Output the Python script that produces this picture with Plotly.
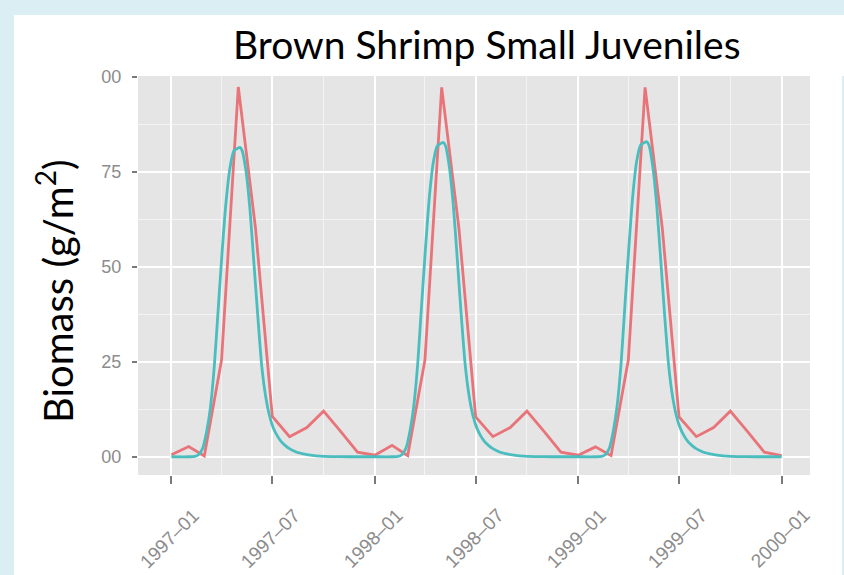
import plotly.graph_objects as go

# ---------------- data ----------------
years = [1997, 1998, 1999]
red_dates = [f"{y}-{m:02d}-01" for y in years for m in range(1, 13)] + ["2000-01-01"]
red_values = [
    0.5, 2.7, 0.2, 25.5, 97.3, 60.0, 10.6, 5.3, 7.7, 12.0, 6.6, 1.2,
    0.4, 3.0, 0.3, 25.5, 97.2, 60.0, 10.5, 5.3, 7.7, 12.0, 6.6, 1.2,
    0.4, 2.6, 0.3, 25.5, 97.2, 60.0, 10.5, 5.3, 7.7, 12.0, 6.6, 1.2,
    0.3,
]

cyan_mmdd = ["01-01", "02-01", "02-12", "02-19", "02-26", "03-05", "03-12", "03-19",
             "03-26", "04-02", "04-09", "04-16", "04-23", "04-30", "05-04", "05-08",
             "05-15", "05-22", "05-29", "06-05", "06-12", "06-19", "06-26", "07-03",
             "07-10", "07-17", "07-24", "07-31", "08-14", "08-28", "09-11", "09-25",
             "10-15", "11-15", "12-15"]
cyan_1997 = [0, 0, 0.1, 0.6, 2.2, 6.5, 13, 24, 39, 54, 67, 76, 80.5, 81.2, 81.4, 80.5,
             75, 65, 51, 37, 24, 16, 10.8, 7.5, 5.5, 4, 3, 2.2, 1.2, 0.7, 0.35, 0.15,
             0.05, 0, 0]
cyan_1998 = [0, 0, 0.1, 0.6, 2.3, 6.7, 13.5, 24.5, 40, 55, 68.5, 77.5, 81.8, 82.5, 82.7, 81.8,
             76, 66, 52, 37.5, 24.5, 16.2, 10.9, 7.6, 5.5, 4, 3, 2.2, 1.2, 0.7, 0.35, 0.15,
             0.05, 0, 0]
cyan_1999 = [0, 0, 0.1, 0.6, 2.3, 6.8, 13.6, 24.6, 40.2, 55.3, 68.8, 77.8, 82.0, 82.7, 82.9, 82.0,
             76.2, 66, 52, 37.5, 24.5, 16.2, 10.9, 7.6, 5.5, 4, 3, 2.2, 1.2, 0.7, 0.35, 0.15,
             0.05, 0, 0]
cyan_end = ("2000-01-01", 0)

x_major = ["1997-01-01", "1997-07-01", "1998-01-01", "1998-07-01",
           "1999-01-01", "1999-07-01", "2000-01-01"]
x_labels = ["1997–01", "1997–07", "1998–01", "1998–07", "1999–01", "1999–07", "2000–01"]
x_minor = ["1997-04-01", "1997-10-01", "1998-04-01", "1998-10-01",
           "1999-04-01", "1999-10-01"]
y_ticks = [0, 25, 50, 75, 100]
y_labels = ["00", "25", "50", "75", "00"]
y_minor = [12.5, 37.5, 62.5, 87.5]

title_text = "Brown Shrimp Small Juveniles"
ytitle_text = "Biomass (g/m<sup>2</sup>)"

# ---------------- build ----------------
cyan_dates, cyan_values = [], []
for y, vals in zip(years, [cyan_1997, cyan_1998, cyan_1999]):
    cyan_dates += [f"{y}-{d}" for d in cyan_mmdd]
    cyan_values += vals
cyan_dates.append(cyan_end[0])
cyan_values.append(cyan_end[1])

RED = "#E8747A"
CYAN = "#4ABDBF"

fig = go.Figure()
fig.add_trace(go.Scatter(x=red_dates, y=red_values, mode="lines",
                         line=dict(color=RED, width=2.8), hoverinfo="skip"))
fig.add_trace(go.Scatter(x=cyan_dates, y=cyan_values, mode="lines",
                         line=dict(color=CYAN, width=2.8, shape="spline", smoothing=0.6),
                         hoverinfo="skip"))

W, H = 844, 575
L, R, T, B = 138, 34, 76, 100
pw, ph = W - L - R, H - T - B


def px_x(px):
    return (px - L) / pw


def px_y(py):
    return (H - B - py) / ph


fig.update_layout(
    width=W, height=H,
    margin=dict(l=L, r=R, t=T, b=B, autoexpand=False),
    paper_bgcolor="white",
    plot_bgcolor="#E5E5E5",
    showlegend=False,
    font=dict(family="Liberation Sans, Arial, sans-serif"),
)

fig.update_xaxes(
    type="date",
    range=["1996-11-02", "2000-02-21"],
    tickmode="array", tickvals=x_major, showticklabels=False,
    ticks="outside", ticklen=8, tickwidth=1.5, tickcolor="#7A7A7A",
    showgrid=True, gridcolor="white", gridwidth=2.2,
    minor=dict(tickmode="array", tickvals=x_minor, showgrid=True,
               gridcolor="#F3F3F3", gridwidth=1, ticks=""),
    zeroline=False, showline=False,
)
fig.update_yaxes(
    range=[-4.8, 100.2],
    tickmode="array", tickvals=y_ticks, ticktext=y_labels,
    ticks="outside", ticklen=5, tickwidth=1.5, tickcolor="#7A7A7A",
    ticklabelstandoff=7,
    tickfont=dict(size=18, color="#8C8C8C"),
    showgrid=True, gridcolor="white", gridwidth=2.2,
    minor=dict(tickmode="array", tickvals=y_minor, showgrid=True,
               gridcolor="#F3F3F3", gridwidth=1, ticks=""),
    zeroline=False, showline=False,
)

# x tick labels (rotated)
for xv, lab in zip(x_major, x_labels):
    fig.add_annotation(x=xv, xref="x", y=px_y(538), yref="paper", text=lab,
                       showarrow=False, textangle=-45, xanchor="center", yanchor="middle",
                       xshift=-2, font=dict(size=19, color="#8C8C8C"))

# title
fig.add_annotation(x=px_x(487), y=px_y(44), xref="paper", yref="paper", text=title_text,
                   showarrow=False, xanchor="center", yanchor="middle",
                   font=dict(family="Lato, sans-serif", size=39, color="black"))
# y title
fig.add_annotation(x=px_x(55), y=px_y(291), xref="paper", yref="paper", text=ytitle_text,
                   showarrow=False, textangle=-90, xanchor="center", yanchor="middle",
                   font=dict(family="Lato, sans-serif", size=40, color="black"))

# light blue frame strips
BLUE = "#DBEEF4"
for x0, x1, y0, y1 in [(0, 14, 0, H), (0, W, 0, 15), (842, W, 76, H)]:
    fig.add_shape(type="rect", xref="paper", yref="paper",
                  x0=px_x(x0), x1=px_x(x1), y0=px_y(y1), y1=px_y(y0),
                  line=dict(width=0), fillcolor=BLUE, layer="above")

fig.write_html("out.html", config={"displayModeBar": False},
               post_script="document.body.style.margin='0';document.body.style.padding='0';")
